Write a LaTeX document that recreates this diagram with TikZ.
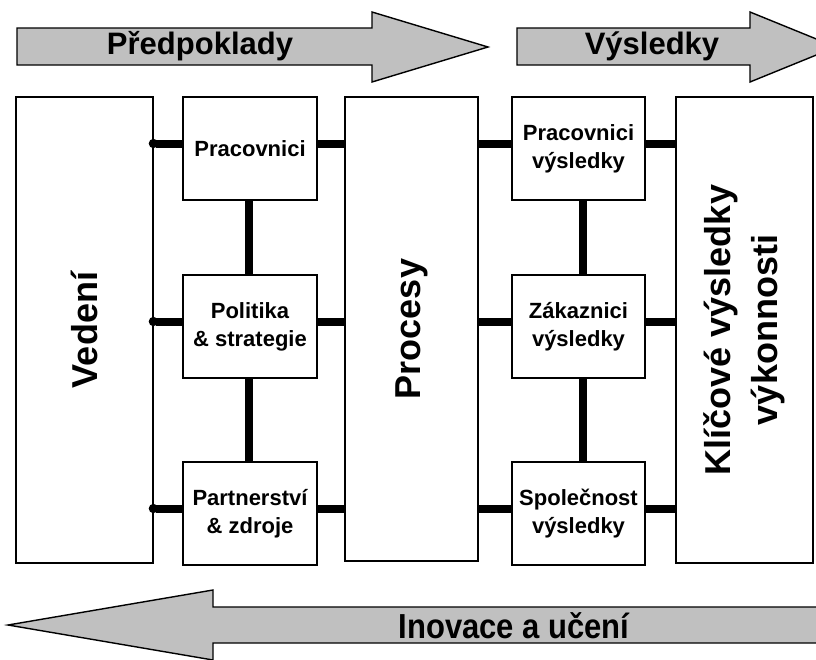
\documentclass[tikz,border=0pt]{standalone}
\usepackage{fontspec}
\setmainfont{Liberation Sans}
\usetikzlibrary{backgrounds,arrows.meta}
\definecolor{arrowgray}{HTML}{C0C0C0}
\newcommand\boxfont{\fontsize{22}{28}\selectfont\bfseries}
\newcommand\bigfont{\fontsize{36}{47}\selectfont\bfseries}
\newcommand\arrfont{\fontsize{31}{36}\selectfont\bfseries}
\begin{document}
\begin{tikzpicture}[x=1pt,y=-1pt,
  box/.style={draw=black, line width=1.8pt, fill=white, inner sep=0pt, align=center, font=\boxfont},
  bigbox/.style={box, font=\bigfont, rotate=90},
  conn/.style={line width=8pt},
  lconn/.style={line width=8pt, {Circle[length=9pt]}-},
  arr/.style={draw=black, line width=1.4pt, fill=arrowgray, line join=miter}]
\useasboundingbox (0,0) rectangle (816,659);
\clip (0,0) rectangle (816,659);

% arrows
\draw[arr] (17,28) -- (372,28) -- (372,12) -- (488,47) -- (372,82) -- (372,65) -- (17,65) -- cycle;
\draw[arr] (517,28) -- (750,28) -- (750,12) -- (836,47) -- (750,82) -- (750,65) -- (517,65) -- cycle;
\draw[arr] (830,607) -- (213,607) -- (213,590) -- (8,625) -- (213,660) -- (213,643) -- (830,643) -- cycle;
\node[font=\arrfont] (tp) at (200,46) {Předpoklady};
\node[font=\arrfont] (tv) at (652,46) {Výsledky};
\node[font=\arrfont] (ti) at (514,626) {\scalebox{1}[1.12]{Inovace a učení}};

% big boxes (rotated: south = right edge, north = left edge)
\node[bigbox, minimum width=466pt, minimum height=137pt] (ved) at (84.5,330) {Vedení};
\node[bigbox, minimum width=464pt, minimum height=133pt] (pro) at (411.5,329) {Procesy};
\node[bigbox, minimum width=466pt, minimum height=137pt] (kli) at (744.5,330) {Klíčové výsledky\\výkonnosti};

% small boxes
\node[box, minimum width=134pt, minimum height=103pt] (pra) at (250,148.5) {Pracovnici};
\node[box, minimum width=134pt, minimum height=103pt] (pol) at (250,326.5) {Politika\\\& strategie};
\node[box, minimum width=134pt, minimum height=103pt] (par) at (250,513.5) {Partnerství\\\& zdroje};

\node[box, minimum width=133pt, minimum height=103pt] (prv) at (578.5,148.5) {Pracovnici\\výsledky};
\node[box, minimum width=133pt, minimum height=103pt] (zak) at (578.5,326.5) {Zákaznici\\výsledky};
\node[box, minimum width=133pt, minimum height=103pt] (spo) at (578.5,513.5) {Společnost\\výsledky};

% left connectors with round end on the Vedeni edge
\foreach \a in {pra, pol, par}{
  \draw[lconn] ([yshift=5pt,xshift=-5pt]\a.west -| ved.south) -- ([yshift=5pt]\a.west);
}

% other connectors behind the boxes
\begin{scope}[on background layer]
\foreach \a/\b in {pra/prv, pol/zak, par/spo}{
  \draw[conn] ([yshift=5pt]\a.east) -- ([yshift=5pt]\a.east -| pro.north);
  \draw[conn] ([yshift=5pt]\b.west -| pro.south) -- ([yshift=5pt]\b.west);
  \draw[conn] ([yshift=5pt]\b.east) -- ([yshift=5pt]\b.east -| kli.north);
}
\draw[conn] ([xshift=-1pt]pra.south) -- ([xshift=-1pt]pol.north);
\draw[conn] ([xshift=-1pt]pol.south) -- ([xshift=-1pt]par.north);
\draw[conn] ([xshift=4.5pt]prv.south) -- ([xshift=4.5pt]zak.north);
\draw[conn] ([xshift=4.5pt]zak.south) -- ([xshift=4.5pt]spo.north);
\end{scope}
\end{tikzpicture}
\end{document}
